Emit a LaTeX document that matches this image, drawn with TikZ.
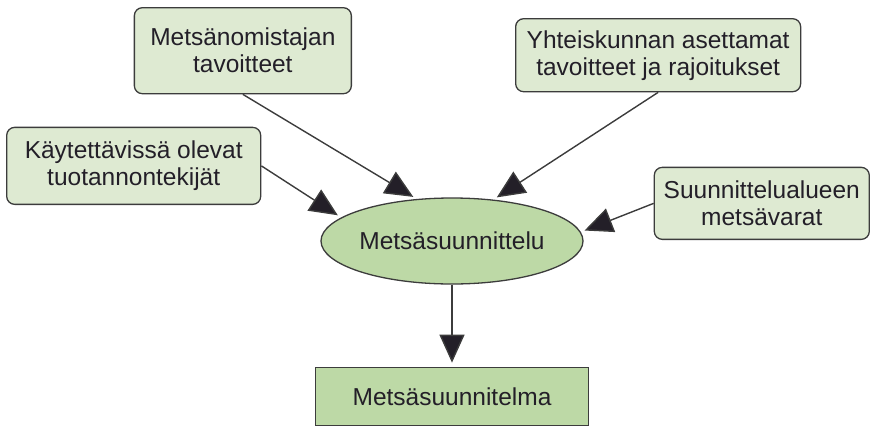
\documentclass[tikz,border=0pt]{standalone}
\usepackage{fontspec}
\setmainfont{Liberation Sans}
\usepackage{tikz}
\usetikzlibrary{shapes,arrows.meta,positioning}
\definecolor{lightgreen}{RGB}{222, 234, 210}
\definecolor{midgreen}{RGB}{189, 217, 166}
\definecolor{rim}{RGB}{60, 60, 60}
\definecolor{ink}{RGB}{35, 31, 40}
\tikzstyle{goal} = [rectangle, rounded corners=8pt, draw=rim, line width=1.3pt, fill=lightgreen, text=ink, align=center, font=\fontsize{24.5}{27}\selectfont, inner sep=0pt]
\tikzstyle{plan} = [ellipse, draw=rim, line width=1.3pt, fill=midgreen, text=ink, font=\fontsize{24.5}{27}\selectfont, minimum width=262pt, minimum height=86pt, inner sep=0pt]
\tikzstyle{result} = [rectangle, draw=rim, line width=1.3pt, fill=midgreen, text=ink, font=\fontsize{24.5}{27}\selectfont, minimum width=273pt, minimum height=58pt, inner sep=0pt]
\tikzstyle{tedge}  = [draw=rim, line width=1.4pt, -{Triangle[length=28pt,width=25pt,fill=ink]}, shorten >=4pt]

\begin{document}
\begin{tikzpicture}[auto]
\useasboundingbox (0,0) rectangle (871pt,-432pt);

% planning =============================
\node[plan] (plan) at (452pt,-241pt) {Metsäsuunnittelu};
\node[result, below=82pt of plan] (result) {Metsäsuunnitelma};

% inputs
\node[goal, minimum width=217pt, minimum height=86pt, above left=103pt and 100pt of plan.north] (owner) {Metsänomistajan\\tavoitteet};
\node[goal, minimum width=285pt, minimum height=73pt, above right=105pt and 63pt of plan.north] (society) {Yhteiskunnan asettamat\\tavoitteet ja rajoitukset};
\node[goal, minimum width=254pt, minimum height=77pt, above left=36pt and 59pt of plan.west] (factors) {Käytettävissä olevat\\tuotannontekijät};
\node[goal, minimum width=215pt, minimum height=72pt, above right=1pt and 70pt of plan.east] (forest) {Suunnittelualueen\\metsävarat};

%edges
\path[tedge] (owner.south) -- (plan.130);
\path[tedge] (society.south) -- (plan.45);
\path[tedge] (factors.east) -- (plan.168);
\path[tedge] (forest.west) -- (plan.4);
\path[tedge] (plan) -- (result);

\end{tikzpicture}
\end{document}
